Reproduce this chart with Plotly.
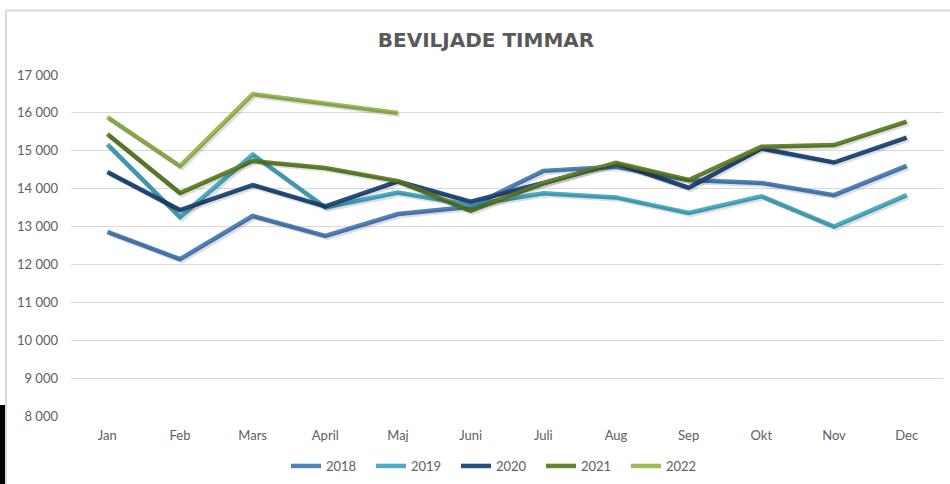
import plotly.graph_objects as go

months = ["Jan", "Feb", "Mars", "April", "Maj", "Juni", "Juli", "Aug", "Sep", "Okt", "Nov", "Dec"]
years = ["2018", "2019", "2020", "2021", "2022"]

v2018 = [12860, 12140, 13280, 12755, 13330, 13520, 14470, 14580, 14230, 14150, 13830, 14600]
v2019 = [15170, 13250, 14900, 13510, 13900, 13570, 13880, 13770, 13360, 13800, 13000, 13830]
v2020 = [14440, 13435, 14095, 13530, 14190, 13655, 14150, 14670, 14025, 15060, 14690, 15350]
v2021 = [15440, 13885, 14730, 14545, 14200, 13415, 14140, 14685, 14230, 15105, 15150, 15770]
v2022 = [15890, 14595, 16495, 16235, 15995]

yticks = [8000, 9000, 10000, 11000, 12000, 13000, 14000, 15000, 16000, 17000]

series = [v2018, v2019, v2020, v2021, v2022]
colors = ["#4F81BD", "#4BACC6", "#264F80", "#64862F", "#9BBB59"]

W, H = 950, 484
L, R, T, B = 71, 7, 75, 68
pw, ph = W - L - R, H - T - B
SHX, SHY = 2, 2  # shadow offset in px
XR = [-0.5, 11.5]
YR = [8000, 17000]
dx = SHX / pw * (XR[1] - XR[0])
dy = SHY / ph * (YR[1] - YR[0])

def px_x(x):
    return (x - L) / pw

def px_y(y):
    return (H - B - y) / ph

fig = go.Figure()
# soft shadows (same data on a slightly offset copy of the axes)
for name, vals in zip(years, series):
    fig.add_trace(go.Scatter(
        x=months[:len(vals)], y=vals, mode="lines", showlegend=False, hoverinfo="skip",
        line=dict(color="rgba(0,0,0,0.13)", width=4.5), xaxis="x2", yaxis="y2",
    ))
for name, vals, col in zip(years, series, colors):
    fig.add_trace(go.Scatter(
        x=months[:len(vals)], y=vals, name=name, mode="lines",
        line=dict(color=col, width=4.5),
    ))

shapes = [
    dict(type="line", xref="paper", yref="paper", x0=px_x(5), x1=px_x(950), y0=px_y(10.5), y1=px_y(10.5),
         line=dict(color="#d9d9d9", width=2)),
    dict(type="line", xref="paper", yref="paper", x0=px_x(6), x1=px_x(6), y0=px_y(10), y1=px_y(484),
         line=dict(color="#d9d9d9", width=2)),
    dict(type="rect", xref="paper", yref="paper", x0=px_x(0), x1=px_x(5), y0=px_y(405), y1=px_y(484),
         fillcolor="black", line=dict(width=0), layer="above"),
]

tickfont = dict(family="Lato", size=13, color="#606060")

fig.update_layout(
    width=W, height=H,
    margin=dict(l=L, r=R, t=T, b=B, autoexpand=False),
    paper_bgcolor="white", plot_bgcolor="white",
    separators=", ",
    title=dict(text="<b>BEVILJADE TIMMAR</b>", x=px_x(486), xref="paper", xanchor="center",
               y=1 - 40 / H, yanchor="middle",
               font=dict(family="DejaVu Sans", size=20, color="#595959")),
    font=dict(family="Lato", size=13, color="#606060"),
    showlegend=True,
    legend=dict(orientation="h", x=px_x(286), xanchor="left", xref="paper", y=px_y(466), yanchor="middle",
                font=dict(family="Lato", size=13, color="#606060"),
                entrywidth=40, entrywidthmode="pixels", tracegroupgap=0,
                bgcolor="rgba(0,0,0,0)"),
    shapes=shapes,
    xaxis=dict(range=XR, showgrid=False, zeroline=False, showline=False, ticks="",
               tickfont=tickfont, fixedrange=True, automargin=False, ticklabelstandoff=10),
    yaxis=dict(range=YR, tickvals=yticks, tickformat=",d", showgrid=True,
               gridcolor="#d9d9d9", gridwidth=1, zeroline=False, showline=False, ticks="",
               tickfont=tickfont, fixedrange=True, automargin=False, ticklabelstandoff=12),
    xaxis2=dict(range=[XR[0] - dx, XR[1] - dx], visible=False, fixedrange=True,
                overlaying="x", anchor="y2"),
    yaxis2=dict(range=[YR[0] + dy, YR[1] + dy], visible=False, fixedrange=True,
                overlaying="y", anchor="x2"),
)

fig.write_html("out.html", config={"displayModeBar": False},
               post_script="document.body.style.margin='0px';")
